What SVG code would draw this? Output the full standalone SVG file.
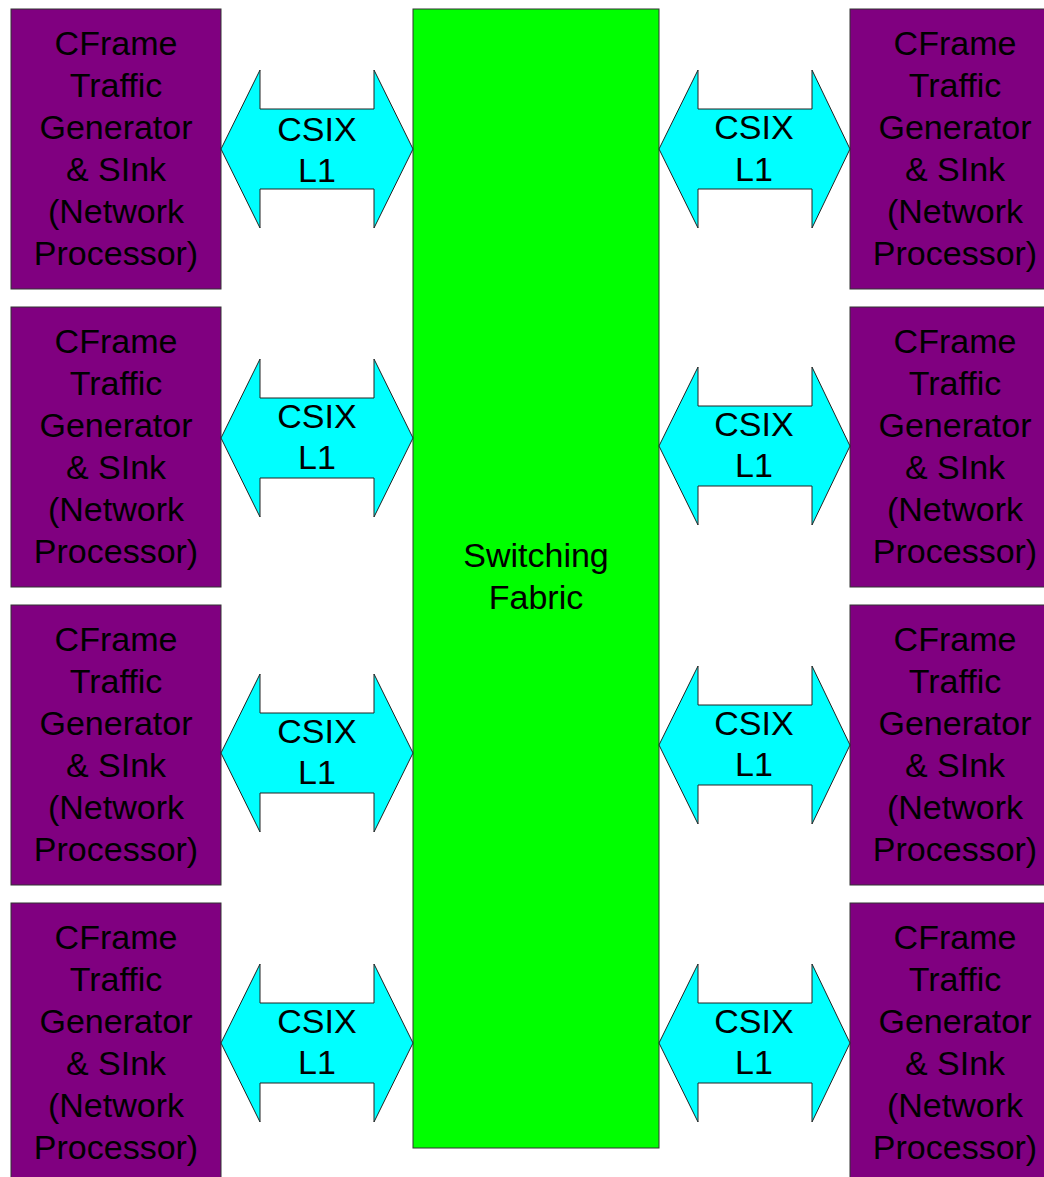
<svg xmlns="http://www.w3.org/2000/svg" width="1044" height="1177" viewBox="0 0 1044 1177">
<style>
.np{fill:#800080;stroke:#333;stroke-width:1}
.fab{fill:#00ff00;stroke:#333;stroke-width:1}
.arr{fill:#00ffff;stroke:#222;stroke-width:1;stroke-linejoin:miter}
text{font-family:"Liberation Sans",Arial,sans-serif;font-size:34px;fill:#000;text-anchor:middle}
</style>
<defs>
<polygon id="darrL" points="221,0 260,-79 260,-40 374,-40 374,-79 413,0 374,79 374,40 260,40 260,79"/>
<polygon id="darrR" points="659,0 698,-79 698,-40 812,-40 812,-79 850,0 812,79 812,40 698,40 698,79"/>
</defs>
<rect width="1044" height="1177" fill="#fff"/>
<g id="fabric">
<rect class="fab" x="413" y="9" width="246" height="1139"/>
<text x="536" y="567">Switching</text>
<text x="536" y="609">Fabric</text>
</g>
<g id="np-left-1">
<rect class="np" x="11" y="9" width="210" height="280"/>
<text x="116"><tspan x="116" y="55">CFrame</tspan><tspan x="116" y="97">Traffic</tspan><tspan x="116" y="139">Generator</tspan><tspan x="116" y="181">&amp; SInk</tspan><tspan x="116" y="223">(Network</tspan><tspan x="116" y="265">Processor)</tspan></text>
</g>
<g id="np-left-2">
<rect class="np" x="11" y="307" width="210" height="280"/>
<text x="116"><tspan x="116" y="353">CFrame</tspan><tspan x="116" y="395">Traffic</tspan><tspan x="116" y="437">Generator</tspan><tspan x="116" y="479">&amp; SInk</tspan><tspan x="116" y="521">(Network</tspan><tspan x="116" y="563">Processor)</tspan></text>
</g>
<g id="np-left-3">
<rect class="np" x="11" y="605" width="210" height="280"/>
<text x="116"><tspan x="116" y="651">CFrame</tspan><tspan x="116" y="693">Traffic</tspan><tspan x="116" y="735">Generator</tspan><tspan x="116" y="777">&amp; SInk</tspan><tspan x="116" y="819">(Network</tspan><tspan x="116" y="861">Processor)</tspan></text>
</g>
<g id="np-left-4">
<rect class="np" x="11" y="903" width="210" height="280"/>
<text x="116"><tspan x="116" y="949">CFrame</tspan><tspan x="116" y="991">Traffic</tspan><tspan x="116" y="1033">Generator</tspan><tspan x="116" y="1075">&amp; SInk</tspan><tspan x="116" y="1117">(Network</tspan><tspan x="116" y="1159">Processor)</tspan></text>
</g>
<g id="np-right-1">
<rect class="np" x="850" y="9" width="210" height="280"/>
<text x="955"><tspan x="955" y="55">CFrame</tspan><tspan x="955" y="97">Traffic</tspan><tspan x="955" y="139">Generator</tspan><tspan x="955" y="181">&amp; SInk</tspan><tspan x="955" y="223">(Network</tspan><tspan x="955" y="265">Processor)</tspan></text>
</g>
<g id="np-right-2">
<rect class="np" x="850" y="307" width="210" height="280"/>
<text x="955"><tspan x="955" y="353">CFrame</tspan><tspan x="955" y="395">Traffic</tspan><tspan x="955" y="437">Generator</tspan><tspan x="955" y="479">&amp; SInk</tspan><tspan x="955" y="521">(Network</tspan><tspan x="955" y="563">Processor)</tspan></text>
</g>
<g id="np-right-3">
<rect class="np" x="850" y="605" width="210" height="280"/>
<text x="955"><tspan x="955" y="651">CFrame</tspan><tspan x="955" y="693">Traffic</tspan><tspan x="955" y="735">Generator</tspan><tspan x="955" y="777">&amp; SInk</tspan><tspan x="955" y="819">(Network</tspan><tspan x="955" y="861">Processor)</tspan></text>
</g>
<g id="np-right-4">
<rect class="np" x="850" y="903" width="210" height="280"/>
<text x="955"><tspan x="955" y="949">CFrame</tspan><tspan x="955" y="991">Traffic</tspan><tspan x="955" y="1033">Generator</tspan><tspan x="955" y="1075">&amp; SInk</tspan><tspan x="955" y="1117">(Network</tspan><tspan x="955" y="1159">Processor)</tspan></text>
</g>
<g id="connectors">
<g id="link-left-1" transform="translate(0,149)"><use href="#darrL" class="arr"/><text x="317" y="-8">CSIX</text><text x="317" y="33">L1</text></g>
<g id="link-left-2" transform="translate(0,438)"><use href="#darrL" class="arr"/><text x="317" y="-10">CSIX</text><text x="317" y="31">L1</text></g>
<g id="link-left-3" transform="translate(0,753)"><use href="#darrL" class="arr"/><text x="317" y="-10">CSIX</text><text x="317" y="31">L1</text></g>
<g id="link-left-4" transform="translate(0,1043)"><use href="#darrL" class="arr"/><text x="317" y="-10">CSIX</text><text x="317" y="31">L1</text></g>
<g id="link-right-1" transform="translate(0,149)"><use href="#darrR" class="arr"/><text x="754" y="-10">CSIX</text><text x="754" y="32">L1</text></g>
<g id="link-right-2" transform="translate(0,446)"><use href="#darrR" class="arr"/><text x="754" y="-10">CSIX</text><text x="754" y="31">L1</text></g>
<g id="link-right-3" transform="translate(0,745)"><use href="#darrR" class="arr"/><text x="754" y="-10">CSIX</text><text x="754" y="31">L1</text></g>
<g id="link-right-4" transform="translate(0,1043)"><use href="#darrR" class="arr"/><text x="754" y="-10">CSIX</text><text x="754" y="31">L1</text></g>
</g>
</svg>
